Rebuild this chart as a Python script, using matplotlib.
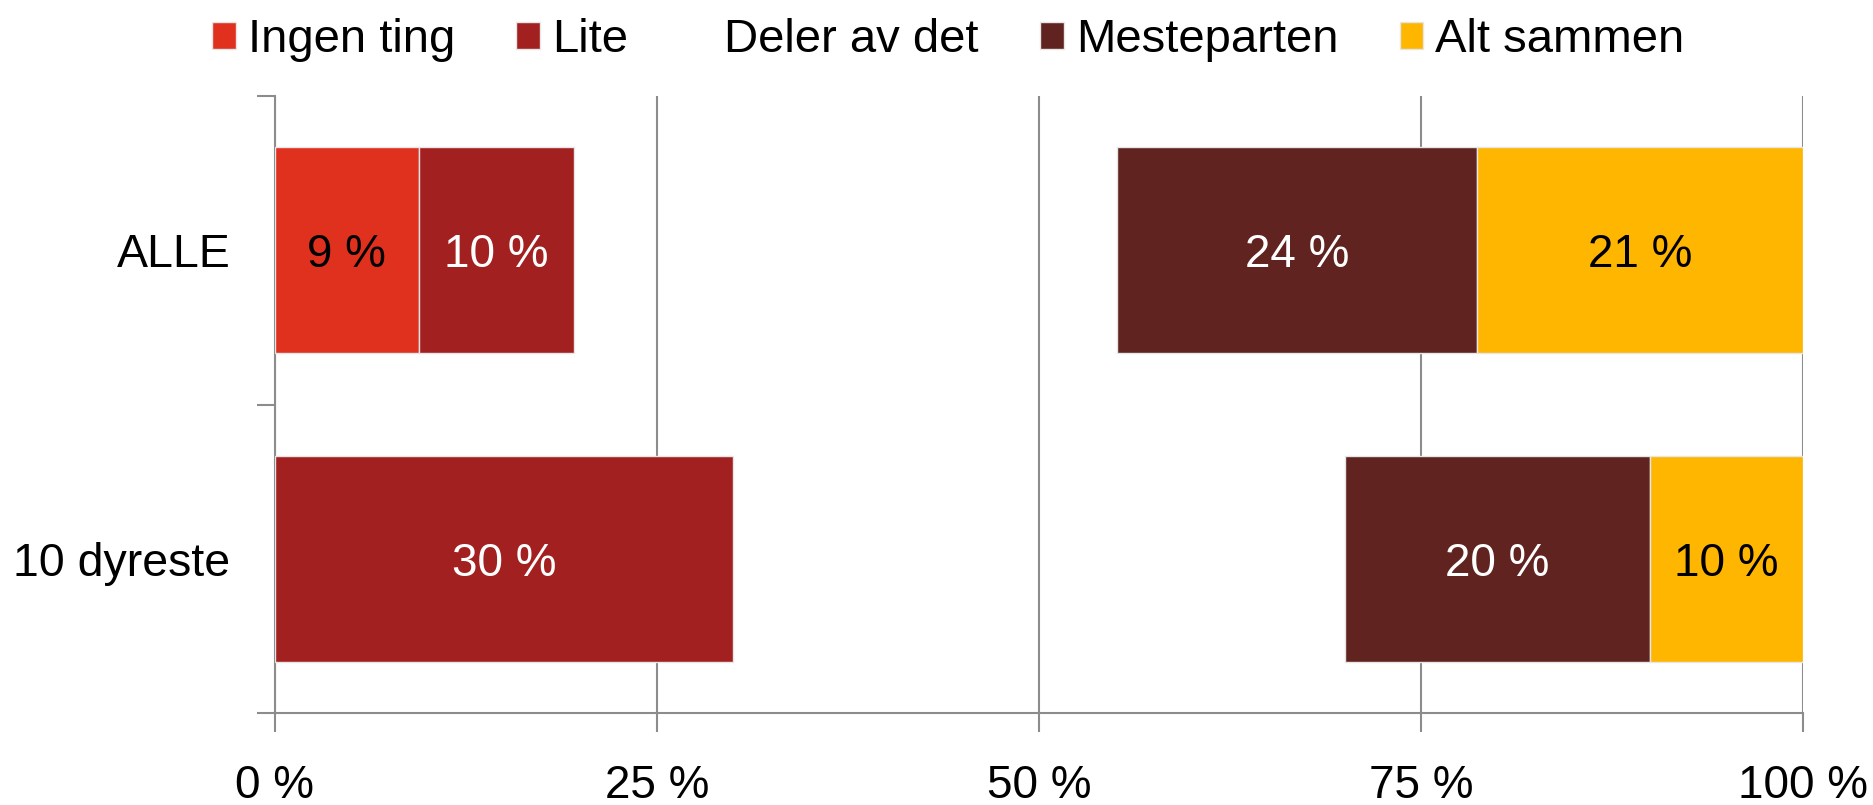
import numpy as np
import matplotlib.pyplot as plt

plt.rcParams['font.family'] = ['Liberation Sans', 'DejaVu Sans']

categories = ['ALLE', '10 dyreste']
series = ['Ingen ting', 'Lite', 'Deler av det', 'Mesteparten', 'Alt sammen']
values = {
    'Ingen ting':   [9.4, 0.0],
    'Lite':         [10.2, 30.0],
    'Deler av det': [35.5, 40.0],
    'Mesteparten':  [23.6, 20.0],
    'Alt sammen':   [21.3, 10.0],
}
colors = ['#E0301E', '#A32020', 'none', '#602320', '#FFB600']
label_colors = ['black', 'white', None, 'white', 'black']
xticks = [0, 25, 50, 75, 100]

fig = plt.figure(figsize=(18.74, 8.05), dpi=100)
ax = fig.add_axes([0.1467, 0.1143, 0.8154, 0.7664])

y = np.arange(len(categories))
left = np.zeros(len(categories))
for name, col, lc in zip(series, colors, label_colors):
    v = np.array(values[name])
    ax.barh(y, v, left=left, height=0.667, color=col, label=name,
            edgecolor='#e6e6e6' if col != 'none' else 'none', linewidth=1, zorder=3)
    if lc is not None:
        for yi, (l, w) in enumerate(zip(left, v)):
            if w > 0:
                ax.text(l + w / 2, yi, f'{round(w)} %', ha='center', va='center_baseline',
                        color=lc, fontsize=33, zorder=4)
    left += v

ax.set_xlim(0, 100)
ax.set_ylim(1.5, -0.5)
ax.set_xticks(xticks)
ax.set_xticklabels([f'{t} %' for t in xticks], fontsize=33)
ax.set_yticks(y)
ax.set_yticklabels(categories, fontsize=33.5)
ax.set_yticks([-0.5, 0.5, 1.5], minor=True)
ax.tick_params(axis='y', which='major', length=0, pad=32)
ax.tick_params(axis='y', which='minor', length=13, color='#8c8c8c', width=1.5)
ax.tick_params(axis='x', length=14, color='#8c8c8c', width=1.5, pad=23)
ax.grid(axis='x', color='#8c8c8c', linewidth=1.5, zorder=0)
for s in ['top', 'right']:
    ax.spines[s].set_visible(False)
for s in ['left', 'bottom']:
    ax.spines[s].set_color('#8c8c8c')
    ax.spines[s].set_linewidth(1.5)

fig.legend(loc='center', bbox_to_anchor=(0.506, 0.9505), ncol=5, frameon=False,
           fontsize=34, handlelength=0.5, handleheight=0.5, handletextpad=0.25,
           columnspacing=1.3)

fig.savefig('out.png', dpi=100)
